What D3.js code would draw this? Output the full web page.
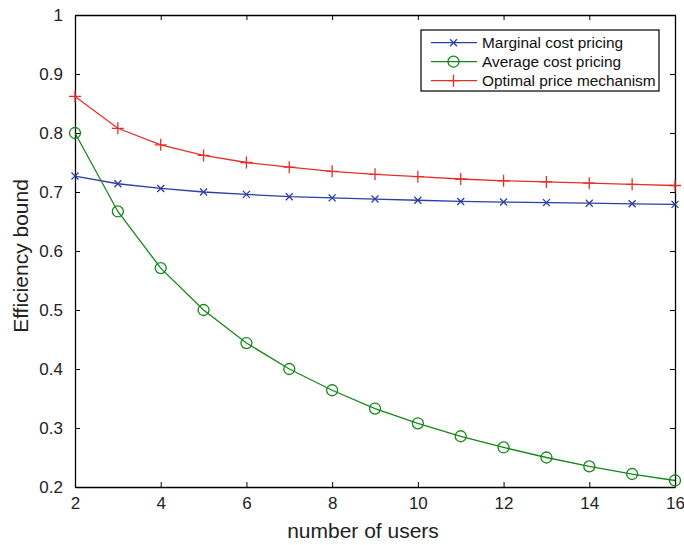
<!DOCTYPE html>
<html><head><meta charset="utf-8">
<script src="https://cdn.jsdelivr.net/npm/d3@7"></script>
<style>body{margin:0;background:#fff}svg{display:block;font-family:"Liberation Sans",Arial,sans-serif}</style>
</head><body><svg id="c" width="684" height="545"></svg>
<script>
const users = [2,3,4,5,6,7,8,9,10,11,12,13,14,15,16];
const marginal = [0.727,0.714,0.706,0.700,0.696,0.692,0.690,0.688,0.686,0.684,0.683,0.682,0.681,0.680,0.679];
const average = [0.800,0.667,0.571,0.500,0.444,0.400,0.364,0.333,0.308,0.286,0.267,0.250,0.235,0.222,0.211];
const optimal = [0.862,0.808,0.780,0.762,0.750,0.742,0.735,0.730,0.726,0.722,0.719,0.717,0.715,0.713,0.711];
const xTicks = [2,4,6,8,10,12,14,16];
const yTicks = [0.2,0.3,0.4,0.5,0.6,0.7,0.8,0.9,1];
const seriesNames = ["Marginal cost pricing","Average cost pricing","Optimal price mechanism"];
const colors = ["#2b3fa8","#17871a","#e5302a"];
const markers = ["x","o","+"];

const L=75,R=675,T=15,B=487;
const svg=d3.select("#c");
const x=d3.scaleLinear().domain([2,16]).range([L,R]);
const y=d3.scaleLinear().domain([0.2,1]).range([B,T]);

const tk=5;
svg.append("g").attr("transform",`translate(0,${B})`).call(d3.axisBottom(x).tickValues(xTicks).tickSizeInner(-tk).tickSizeOuter(0).tickPadding(10).tickFormat(d3.format("d")));
svg.append("g").attr("transform",`translate(0,${T})`).call(d3.axisTop(x).tickValues(xTicks).tickSizeInner(-tk).tickSizeOuter(0).tickFormat(""));
svg.append("g").attr("transform",`translate(${L},0)`).call(d3.axisLeft(y).tickValues(yTicks).tickSizeInner(-tk).tickSizeOuter(0).tickPadding(12).tickFormat(d=>d===1?"1":d3.format(".1f")(d)));
svg.append("g").attr("transform",`translate(${R},0)`).call(d3.axisRight(y).tickValues(yTicks).tickSizeInner(-tk).tickSizeOuter(0).tickFormat(""));
svg.selectAll(".domain").attr("stroke","#000").attr("stroke-width",1.3);
svg.selectAll(".tick line").attr("stroke","#000").attr("stroke-width",1);
svg.selectAll(".tick text").attr("font-size",17).attr("fill","#222").attr("font-family","Liberation Sans, Arial, sans-serif");

function drawMarker(g,type,cx,cy,color){
  if(type==="x"){
    const s=3.5;
    g.append("path").attr("d",`M${cx-s},${cy-s}L${cx+s},${cy+s}M${cx-s},${cy+s}L${cx+s},${cy-s}`).attr("stroke",color).attr("stroke-width",1.3).attr("fill","none");
  } else if(type==="o"){
    g.append("circle").attr("cx",cx).attr("cy",cy).attr("r",5.5).attr("stroke",color).attr("stroke-width",1.3).attr("fill","none");
  } else {
    const s=6;
    g.append("path").attr("d",`M${cx-s},${cy}L${cx+s},${cy}M${cx},${cy-s}L${cx},${cy+s}`).attr("stroke",color).attr("stroke-width",1.3).attr("fill","none");
  }
}

const data=[marginal,average,optimal];
const line=d3.line().x((d,i)=>x(users[i])).y(d=>y(d));
data.forEach((vals,k)=>{
  const g=svg.append("g");
  g.append("path").datum(vals).attr("d",line).attr("fill","none").attr("stroke",colors[k]).attr("stroke-width",1.3);
  vals.forEach((v,i)=>drawMarker(g,markers[k],x(users[i]),y(v),colors[k]));
});

const lg=svg.append("g");
lg.append("rect").attr("x",421).attr("y",30).attr("width",238).attr("height",61).attr("fill","#fff").attr("stroke","#000").attr("stroke-width",1.2);
seriesNames.forEach((n,k)=>{
  const yy=42.7+k*19;
  lg.append("line").attr("x1",431).attr("x2",477).attr("y1",yy).attr("y2",yy).attr("stroke",colors[k]).attr("stroke-width",1.3);
  drawMarker(lg,markers[k],453.5,yy,colors[k]);
  lg.append("text").attr("x",482).attr("y",yy+5.5).attr("font-size",15.4).attr("fill","#111").text(n);
});

svg.append("text").attr("x",363).attr("y",538).attr("text-anchor","middle").attr("font-size",21).attr("fill","#222").text("number of users");
svg.append("text").attr("transform",`translate(28,${(T+B)/2+5}) rotate(-90)`).attr("text-anchor","middle").attr("font-size",21).attr("fill","#222").text("Efficiency bound");
</script></body></html>
